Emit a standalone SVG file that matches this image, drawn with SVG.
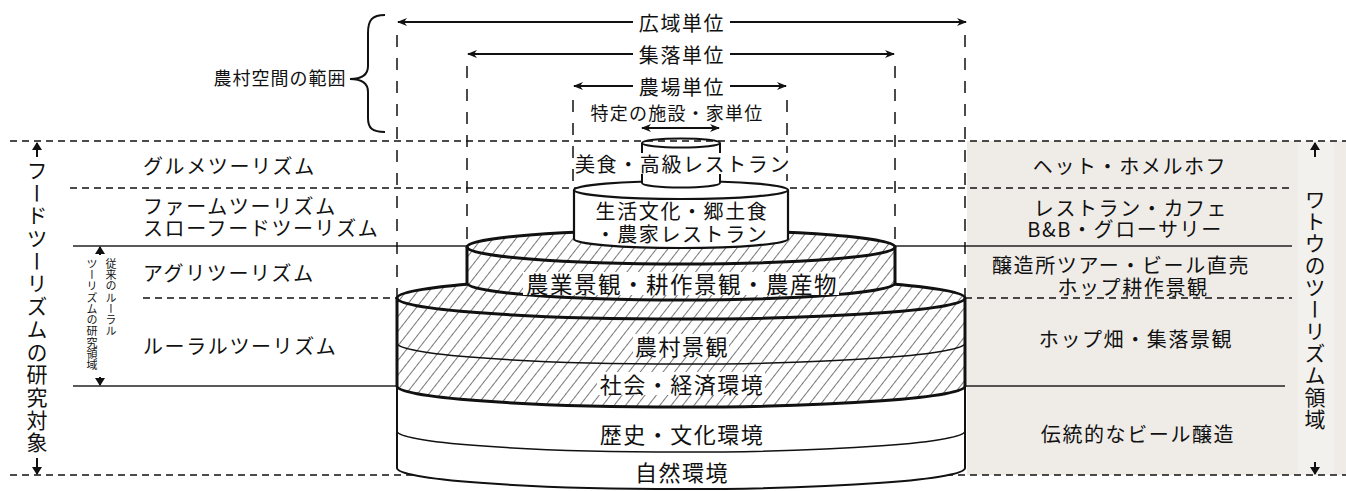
<svg xmlns="http://www.w3.org/2000/svg" width="1346" height="491" viewBox="0 0 1346 491">
<defs>
<pattern id="hatch" patternUnits="userSpaceOnUse" width="9" height="9" patternTransform="rotate(38)">
<rect width="9" height="9" fill="#fff"/>
<line x1="4.5" y1="0" x2="4.5" y2="9" stroke="#555" stroke-width="0.8"/>
</pattern>
<marker id="ah" viewBox="0 0 10 8" refX="9" refY="4" markerWidth="10" markerHeight="8" markerUnits="userSpaceOnUse" orient="auto-start-reverse">
<path d="M0,0 L10,4 L0,8 L3,4 Z" fill="#111"/>
</marker>
<marker id="vh" viewBox="0 0 8 10" refX="7" refY="5" markerWidth="8" markerHeight="10" markerUnits="userSpaceOnUse" orient="auto-start-reverse">
<path d="M0,0 L8,5 L0,10 Z" fill="#111"/>
</marker>
</defs>
<style>
text{font-family:"Noto Sans CJK JP","Noto Sans CJK SC",sans-serif;fill:#111;dominant-baseline:central}
.lab{font-size:20px;letter-spacing:1.6px}
.mid{text-anchor:middle}
.big{font-size:22px;letter-spacing:1.5px;text-anchor:middle}
.vt{writing-mode:vertical-rl;text-anchor:middle}
.hd{stroke:#111;stroke-width:1.5;stroke-dasharray:7 5;fill:none}
.vd{stroke:#111;stroke-width:1.5;stroke-dasharray:12 11;fill:none}
.sl{stroke:#222;stroke-width:1.6;fill:none}
.arr{stroke:#111;stroke-width:2;fill:none}
.thick{stroke:#111;stroke-width:3;fill:none}
.med{stroke:#111;stroke-width:2;fill:none}
.thin{stroke:#111;stroke-width:1.5;fill:none}
</style>

<rect x="967" y="141" width="379" height="334" fill="#efece8"/>
<rect x="1298" y="141" width="36" height="334" fill="#f3f1ee"/>

<g id="connectors">
<line class="hd" x1="10" y1="141" x2="1346" y2="141"/>
<line class="hd" x1="10" y1="475" x2="1346" y2="475"/>
<line class="hd" x1="70" y1="188" x2="1290" y2="188"/>
<line class="hd" x1="143" y1="298" x2="397" y2="298"/>
<line class="hd" x1="965" y1="298" x2="1292" y2="298"/>
<line class="sl" x1="73" y1="246" x2="467" y2="246"/>
<line class="sl" x1="895" y1="246" x2="1292" y2="246"/>
<line class="sl" x1="73" y1="386" x2="397" y2="386"/>
<line class="sl" x1="965" y1="386" x2="1285" y2="386"/>
<line class="vd" x1="397" y1="35" x2="397" y2="298"/>
<line class="vd" x1="965" y1="35" x2="965" y2="298"/>
<line class="vd" x1="467" y1="66" x2="467" y2="247"/>
<line class="vd" x1="895" y1="66" x2="895" y2="247"/>
<line class="vd" x1="573" y1="100" x2="573" y2="190"/>
<line class="vd" x1="787" y1="100" x2="787" y2="190"/>
<path d="M385,15 C372,15 368,20 368,33 L368,66 C368,75 362,79 350,79 C362,79 368,83 368,92 L368,118 C368,128 372,132 385,132" class="med"/>
<line class="arr" x1="398" y1="22" x2="633" y2="22" marker-start="url(#ah)"/>
<line class="arr" x1="730" y1="22" x2="966" y2="22" marker-end="url(#ah)"/>
<line class="arr" x1="468" y1="54" x2="633" y2="54" marker-start="url(#ah)"/>
<line class="arr" x1="730" y1="54" x2="894" y2="54" marker-end="url(#ah)"/>
<line class="arr" x1="574" y1="86" x2="633" y2="86" marker-start="url(#ah)"/>
<line class="arr" x1="730" y1="86" x2="786" y2="86" marker-end="url(#ah)"/>
<line class="arr" x1="642" y1="128" x2="719" y2="128" marker-start="url(#ah)" marker-end="url(#ah)"/>
<line class="arr" x1="37" y1="157" x2="37" y2="143" marker-end="url(#vh)"/>
<line class="arr" x1="37" y1="458" x2="37" y2="474" marker-end="url(#vh)"/>
<line class="arr" x1="1315" y1="157" x2="1315" y2="143" marker-end="url(#vh)"/>
<line class="arr" x1="1315" y1="462" x2="1315" y2="474" marker-end="url(#vh)"/>
<line class="arr" x1="100" y1="255" x2="100" y2="247" marker-end="url(#vh)"/>
<line class="arr" x1="100" y1="377" x2="100" y2="385" marker-end="url(#vh)"/>
</g>

<g id="layer-lower">
<path d="M397,386 L397,468 A284,21 0 0 0 965,468 L965,386 Z" fill="#fff"/>
<path d="M397,431 A284,21 0 0 0 965,431" class="thin"/>
<path d="M397,386 L397,468 A284,21 0 0 0 965,468 L965,386" class="med"/>
<text class="big" x="682" y="433">歴史・文化環境</text>
<text class="big" x="682" y="471">自然環境</text>
</g>

<g id="layer-rural">
<path d="M397,298 L397,386 A284,21 0 0 0 965,386 L965,298 Z" fill="url(#hatch)"/>
<ellipse cx="681" cy="298" rx="284" ry="21" class="thick" style="fill:url(#hatch)"/>
<path d="M397,343 A284,21 0 0 0 965,343" class="thin"/>
<path d="M397,298 L397,386 A284,21 0 0 0 965,386 L965,298" class="thick"/>
<rect x="633" y="334" width="96" height="23" fill="#fff"/>
<rect x="597" y="372" width="168" height="23" fill="#fff"/>
<text class="big" x="682" y="345">農村景観</text>
<text class="big" x="682" y="383">社会・経済環境</text>
</g>

<g id="layer-agri">
<path d="M467,247 L467,283 A214,17 0 0 0 895,283 L895,247 Z" fill="url(#hatch)"/>
<ellipse cx="681" cy="247" rx="214" ry="17" class="thick" style="fill:url(#hatch)"/>
<path d="M467,247 L467,283 A214,17 0 0 0 895,283 L895,247" class="thick"/>
<rect x="523" y="272" width="316" height="23" fill="#fff"/>
<text x="682" y="283" style="font-size:22.5px;letter-spacing:1.5px;text-anchor:middle">農業景観・耕作景観・農産物</text>
</g>

<g id="layer-life">
<path d="M574,190 L574,239 A107,9 0 0 0 788,239 L788,190 Z" fill="#fff"/>
<ellipse cx="681" cy="190" rx="107" ry="9" fill="#fff" stroke="#111" stroke-width="2.2"/>
<path d="M574,190 L574,239 A107,9 0 0 0 788,239 L788,190" stroke="#111" stroke-width="2.2" fill="none"/>
<text class="lab mid" x="682" y="210">生活文化・郷土食</text>
<text class="lab mid" x="682" y="233">・農家レストラン</text>
</g>

<g id="layer-gourmet">
<path d="M642,143 L642,183 A39,4.5 0 0 0 720,183 L720,143 Z" fill="#fff"/>
<ellipse cx="681" cy="143" rx="39" ry="4.5" fill="#fff" class="med"/>
<path d="M642,143 L642,183 A39,4.5 0 0 0 720,183 L720,143" class="med"/>
<rect x="574" y="153" width="218" height="21" fill="#fff"/>
<text class="lab mid" x="683" y="163">美食・高級レストラン</text>
</g>

<g id="scale-labels">
<text class="mid" x="280" y="77" style="font-size:18px;letter-spacing:1px">農村空間の範囲</text>
<text class="lab mid" x="682" y="22">広域単位</text>
<text class="lab mid" x="682" y="54">集落単位</text>
<text class="lab mid" x="682" y="86">農場単位</text>
<text class="mid" x="677" y="112" style="font-size:18px;letter-spacing:1.2px">特定の施設・家単位</text>
</g>

<g id="left-labels">
<text class="lab" x="143" y="165">グルメツーリズム</text>
<text class="lab" x="143" y="205">ファームツーリズム</text>
<text class="lab" x="143" y="227">スローフードツーリズム</text>
<text class="lab" x="143" y="272">アグリツーリズム</text>
<text class="lab" x="143" y="345">ルーラルツーリズム</text>
<text class="vt" x="37" y="307" style="font-size:21px;letter-spacing:1.7px">フードツーリズムの研究対象</text>
<text x="111" y="258" style="font-size:11px;letter-spacing:0.3px;writing-mode:vertical-rl">従来のルーラル</text>
<text x="92" y="258" style="font-size:11px;letter-spacing:0.3px;writing-mode:vertical-rl">ツーリズムの研究領域</text>
</g>

<g id="right-labels">
<text class="lab mid" x="1130" y="165">ヘット・ホメルホフ</text>
<text class="lab mid" x="1131" y="207">レストラン・カフェ</text>
<text class="lab mid" x="1125" y="228">B&amp;B・グローサリー</text>
<text class="lab mid" x="1121" y="264">醸造所ツアー・ビール直売</text>
<text class="lab mid" x="1133" y="286">ホップ耕作景観</text>
<text class="lab mid" x="1136" y="338">ホップ畑・集落景観</text>
<text class="lab mid" x="1138" y="433">伝統的なビール醸造</text>
<text class="vt" x="1315" y="310" style="font-size:21px;letter-spacing:1px">ワトウのツーリズム領域</text>
</g>
</svg>
